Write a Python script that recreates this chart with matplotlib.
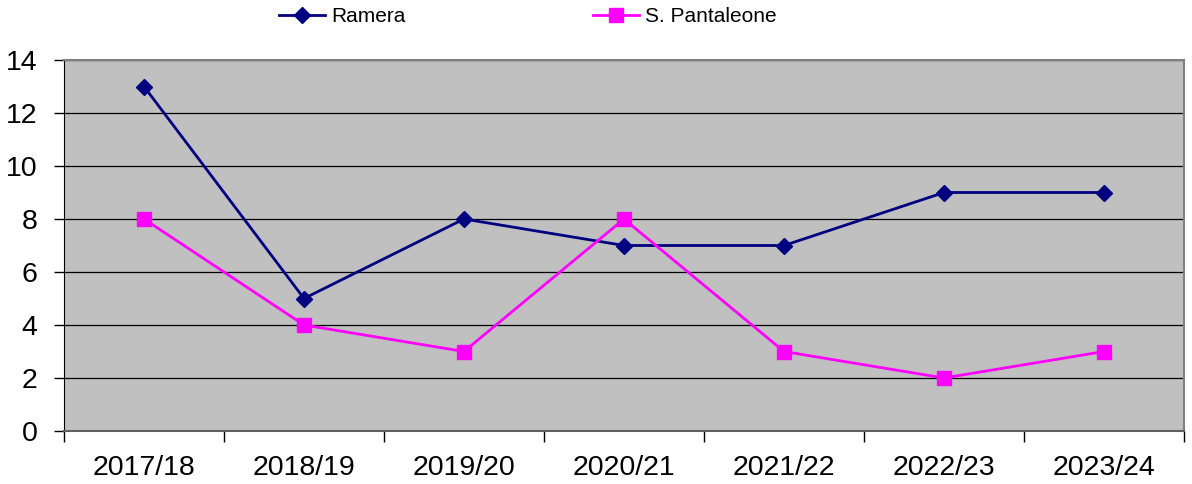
import matplotlib.pyplot as plt
import numpy as np

# Data
seasons = ["2017/18", "2018/19", "2019/20", "2020/21", "2021/22", "2022/23", "2023/24"]
ramera = [13, 5, 8, 7, 7, 9, 9]
pantaleone = [8, 4, 3, 8, 3, 2, 3]

plt.rcParams['font.family'] = ['Liberation Sans', 'DejaVu Sans']

fig = plt.figure(figsize=(11.92, 4.84), dpi=100)
ax = fig.add_axes([64 / 1192, 53 / 484, 1120 / 1192, 371 / 484])
ax.set_facecolor("#C0C0C0")

x = np.arange(len(seasons))
ax.plot(x, ramera, color="#000080", lw=2, marker="D", ms=8, label="Ramera")
ax.plot(x, pantaleone, color="#FF00FF", lw=2, marker="s", ms=10, label="S. Pantaleone")

ax.set_xlim(-0.5, len(seasons) - 0.5)
ax.set_ylim(0, 14)
ax.set_yticks(range(0, 15, 2))
ax.grid(axis="y", color="black", lw=0.9)
ax.set_axisbelow(True)

ax.set_xticks(x)
ax.set_xticklabels(seasons, fontsize=20.5)
ax.tick_params(axis="x", which="major", length=0, pad=17)
ax.set_xticks(np.arange(-0.5, len(seasons), 1), minor=True)
ax.tick_params(axis="x", which="minor", length=8, width=1, direction="out")
ax.tick_params(axis="y", length=7, width=1, labelsize=20.5, pad=12)

for s in ["top", "right", "bottom"]:
    ax.spines[s].set_color("#808080")
    ax.spines[s].set_linewidth(1.5)
ax.spines["left"].set_color("black")
ax.spines["bottom"].set_color("#606060")

fig.legend(loc="upper left", bbox_to_anchor=(279 / 1192, 1 - 7 / 484), ncol=2, frameon=False,
           fontsize=15, columnspacing=9.0, handlelength=2.2, handletextpad=0.3,
           borderpad=0, borderaxespad=0)

fig.savefig("out.png", dpi=100)
